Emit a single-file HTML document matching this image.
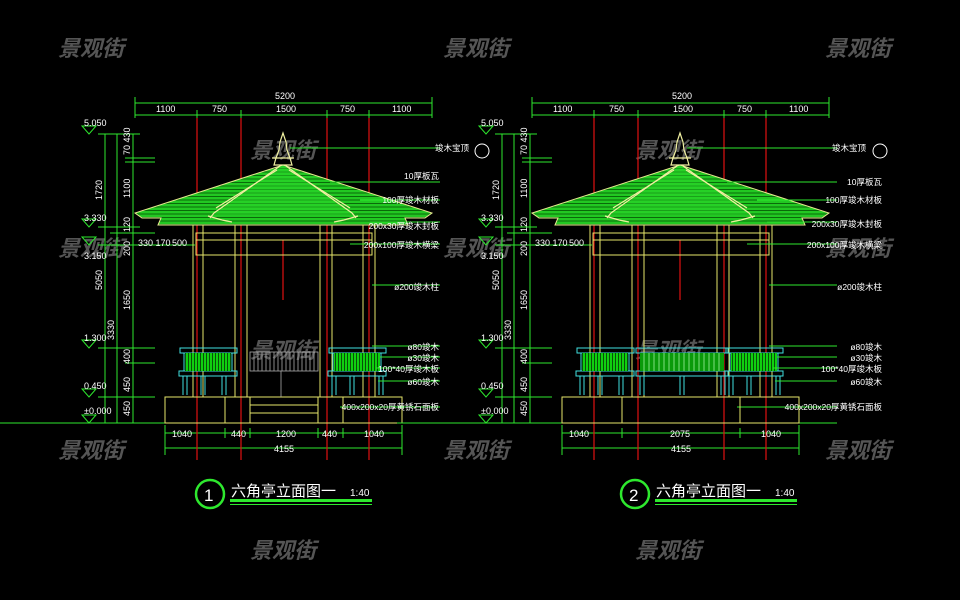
<!DOCTYPE html>
<html><head><meta charset="utf-8"><style>
html,body{margin:0;padding:0;background:#000;width:960px;height:600px;overflow:hidden}
svg{display:block}
text{font-family:"Liberation Sans","Noto Sans CJK SC",sans-serif}
.d{fill:#fff;font-size:9px}
.l{fill:#fff;font-size:8.5px}
.wm{fill:#555;font-size:22px;font-weight:bold;font-style:italic;font-family:"Noto Sans CJK SC","WenQuanYi Zen Hei",sans-serif}
</style></head><body>
<svg width="960" height="600" viewBox="0 0 960 600" xmlns="http://www.w3.org/2000/svg">
<defs>
<pattern id="st" width="4" height="3.5" patternUnits="userSpaceOnUse"><rect width="4" height="3.5" fill="#22c822"/><line x1="0" y1="0.5" x2="4" y2="0.5" stroke="#0a6a0a" stroke-width="1"/></pattern>
<pattern id="vb" width="3" height="4" patternUnits="userSpaceOnUse"><rect width="3" height="4" fill="#10d010"/><line x1="2.5" y1="0" x2="2.5" y2="4" stroke="#085008" stroke-width="1"/></pattern>
<g id="pav">
 <!-- dims top -->
 <g stroke="#2ee82e" stroke-width="1" fill="none">
  <line x1="135" y1="103" x2="432" y2="103"/>
  <line x1="135" y1="115" x2="432" y2="115"/>
  <line x1="135" y1="97" x2="135" y2="118"/><line x1="432" y1="97" x2="432" y2="118"/>
  <line x1="197" y1="110" x2="197" y2="120"/><line x1="241" y1="110" x2="241" y2="120"/>
  <line x1="327" y1="110" x2="327" y2="120"/><line x1="369" y1="110" x2="369" y2="120"/>
  <!-- left vertical dims -->
  <line x1="105" y1="134" x2="105" y2="423"/><line x1="117" y1="134" x2="117" y2="423"/><line x1="133" y1="134" x2="133" y2="423"/>
  <line x1="98" y1="134" x2="140" y2="134"/><line x1="125" y1="158" x2="155" y2="158"/><line x1="125" y1="162" x2="155" y2="162"/>
  <line x1="98" y1="227" x2="140" y2="227"/><line x1="110" y1="233" x2="155" y2="233"/><line x1="98" y1="245" x2="195" y2="245"/>
  <line x1="98" y1="348" x2="155" y2="348"/><line x1="125" y1="363" x2="155" y2="363"/><line x1="98" y1="397" x2="155" y2="397"/>
  <line x1="0" y1="423" x2="440" y2="423"/>
  <!-- bottom dims -->
  <line x1="165" y1="433" x2="402" y2="433"/><line x1="165" y1="448" x2="402" y2="448"/>
  <line x1="165" y1="425" x2="165" y2="455"/><line x1="402" y1="425" x2="402" y2="455"/>
  <!-- level markers -->
  <path d="M82 126H96L89 134Z M82 219H96L89 227Z M82 237H96L89 245Z M82 340H96L89 348Z M82 389H96L89 397Z M82 415H96L89 423Z"/>
 </g>
 <!-- red center lines -->
 <g stroke="#e01010" stroke-width="1.2">
  <line x1="197" y1="118" x2="197" y2="460"/><line x1="241" y1="118" x2="241" y2="460"/>
  <line x1="327" y1="118" x2="327" y2="460"/><line x1="369" y1="118" x2="369" y2="460"/>
  <line x1="283" y1="240" x2="283" y2="300"/>
 </g>
 <!-- roof -->
 <path d="M283 165 L432 213 L425 218 L405 218 L408 225 L158 225 L161 218 L142 218 L135 213 Z" fill="url(#st)" stroke="#e8e890" stroke-width="1"/>
 <path d="M283 165 L355 215 L213 215 Z" fill="#2ad82a" opacity="0.5"/>
 <g stroke="#f0f0a0" stroke-width="1.2" fill="none">
  <path d="M280 166 L214 213 L210 218 M286 166 L352 213 L356 218"/>
  <path d="M277 170 L216 208 M289 170 L350 208"/>
  <path d="M208 216 L222 220 L232 222 M358 216 L344 220 L334 222"/>
  <path d="M283 133 L280 142 L279 150 L276 158 L274 165 L292 165 L290 158 L287 150 L286 142 Z"/>
  <line x1="272" y1="158" x2="294" y2="158"/>
 </g>
 <!-- columns -->
 <g stroke="#e6e66a" stroke-width="1" fill="none">
  <line x1="193" y1="225" x2="193" y2="397"/><line x1="203" y1="225" x2="203" y2="397"/>
  <line x1="235" y1="225" x2="235" y2="397"/><line x1="247" y1="225" x2="247" y2="397"/>
  <line x1="320" y1="225" x2="320" y2="397"/><line x1="332" y1="225" x2="332" y2="397"/>
  <line x1="363" y1="225" x2="363" y2="397"/><line x1="375" y1="225" x2="375" y2="397"/>
  <rect x="196" y="233" width="176" height="7"/>
  <rect x="196" y="240" width="176" height="15"/>
  <rect x="165" y="397" width="237" height="26"/>
 </g>
 <!-- railings side -->
 <g stroke="#40e0e0" stroke-width="1" fill="none">
  <rect x="180" y="348" width="57" height="5"/><rect x="179" y="371" width="58" height="5"/>
  <rect x="329" y="348" width="57" height="5"/><rect x="328" y="371" width="58" height="5"/>
  <path d="M183 376V395M187 376V395M201 376V395M205 376V395M222 376V395M226 376V395M332 376V395M336 376V395M350 376V395M354 376V395M379 376V395M383 376V395"/>
  <path d="M184 353V371M232 353V371M333 353V371M381 353V371"/>
 </g>
 <rect x="185" y="353" width="46" height="18" fill="url(#vb)"/>
 <rect x="334" y="353" width="46" height="18" fill="url(#vb)"/>
 <!-- leaders -->
 <g stroke="#2ee82e" stroke-width="1">
  <line x1="290" y1="148" x2="440" y2="148"/><line x1="330" y1="182" x2="440" y2="182"/>
  <line x1="360" y1="200" x2="440" y2="200"/><line x1="370" y1="222" x2="440" y2="222"/>
  <line x1="350" y1="244" x2="440" y2="244"/><line x1="372" y1="285" x2="440" y2="285"/>
  <line x1="372" y1="346" x2="440" y2="346"/><line x1="380" y1="357" x2="440" y2="357"/>
  <line x1="376" y1="368" x2="440" y2="368"/><line x1="378" y1="381" x2="440" y2="381"/>
  <line x1="340" y1="407" x2="440" y2="407"/>
 </g>
</g>
</defs>

<g class="wms">
<text class="wm" x="58" y="56">景观街</text><text class="wm" x="443" y="56">景观街</text><text class="wm" x="825" y="56">景观街</text>
<text class="wm" x="250" y="158">景观街</text><text class="wm" x="635" y="158">景观街</text>
<text class="wm" x="58" y="256">景观街</text><text class="wm" x="443" y="256">景观街</text><text class="wm" x="825" y="256">景观街</text>
<text class="wm" x="250" y="358">景观街</text><text class="wm" x="635" y="358">景观街</text>
<text class="wm" x="58" y="458">景观街</text><text class="wm" x="443" y="458">景观街</text><text class="wm" x="825" y="458">景观街</text>
<text class="wm" x="250" y="558">景观街</text><text class="wm" x="635" y="558">景观街</text>
</g>

<use href="#pav"/>
<use href="#pav" transform="translate(397,0)"/>

<!-- left-specific: steps & middle rail -->
<g stroke="#e6e66a" fill="none">
 <path d="M225 397V423M250 397V423M318 397V423M343 397V423M250 405H318M250 413H318"/>
</g>
<g stroke="#aaa" stroke-width="0.8"><rect x="250" y="352" width="68" height="19" fill="none"/>
<path d="M254 352V371M258 352V371M262 352V371M266 352V371M270 352V371M274 352V371M278 352V371M282 352V371M286 352V371M290 352V371M294 352V371M298 352V371M302 352V371M306 352V371M310 352V371M314 352V371M281 371V397"/></g>
<g stroke="#2ee82e"><path d="M225 428V438M250 428V438M318 428V438M343 428V438"/></g>

<!-- right-specific middle rail -->
<g stroke="#40e0e0" fill="none"><rect x="636" y="348" width="92" height="5"/><rect x="636" y="371" width="92" height="5"/><path d="M640 376V395M644 376V395M680 376V395M684 376V395M721 376V395M725 376V395"/></g>
<rect x="640" y="353" width="84" height="18" fill="#0a9a0a"/>
<g stroke="#9ef09e" stroke-width="0.8"><path d="M644 353V371M649 353V371M654 353V371M659 353V371M664 353V371M669 353V371M674 353V371M679 353V371M684 353V371M689 353V371M694 353V371M699 353V371M704 353V371M709 353V371M714 353V371M719 353V371"/></g>
<g stroke="#e6e66a"><path d="M622 397V423M740 397V423"/></g>
<g stroke="#2ee82e"><path d="M622 428V438M740 428V438"/></g>

<!-- texts both -->
<g class="d">
 <text x="275" y="99">5200</text><text x="672" y="99">5200</text>
 <text x="156" y="112">1100</text><text x="212" y="112">750</text><text x="276" y="112">1500</text><text x="340" y="112">750</text><text x="392" y="112">1100</text>
 <text x="553" y="112">1100</text><text x="609" y="112">750</text><text x="673" y="112">1500</text><text x="737" y="112">750</text><text x="789" y="112">1100</text>
 <text x="84" y="126">5.050</text><text x="84" y="221">3.330</text><text x="84" y="259">3.150</text><text x="84" y="341">1.300</text><text x="84" y="389">0.450</text><text x="84" y="414">±0.000</text>
 <text x="481" y="126">5.050</text><text x="481" y="221">3.330</text><text x="481" y="259">3.150</text><text x="481" y="341">1.300</text><text x="481" y="389">0.450</text><text x="481" y="414">±0.000</text>
 <text x="138" y="246">330 170</text><text x="172" y="246">500</text>
 <text x="535" y="246">330 170</text><text x="569" y="246">500</text>
 <text x="172" y="437">1040</text><text x="231" y="437">440</text><text x="276" y="437">1200</text><text x="322" y="437">440</text><text x="364" y="437">1040</text>
 <text x="274" y="452">4155</text>
 <text x="569" y="437">1040</text><text x="670" y="437">2075</text><text x="761" y="437">1040</text>
 <text x="671" y="452">4155</text>
</g>
<g class="d" font-size="8">
 <text transform="translate(102,200) rotate(-90)">1720</text><text transform="translate(102,290) rotate(-90)">5050</text><text transform="translate(114,340) rotate(-90)">3330</text>
 <text transform="translate(130,155) rotate(-90)">70 430</text><text transform="translate(130,198) rotate(-90)">1100</text><text transform="translate(130,232) rotate(-90)">120</text><text transform="translate(130,256) rotate(-90)">200</text><text transform="translate(130,310) rotate(-90)">1650</text><text transform="translate(130,364) rotate(-90)">400</text><text transform="translate(130,392) rotate(-90)">450</text><text transform="translate(130,416) rotate(-90)">450</text>
 <text transform="translate(499,200) rotate(-90)">1720</text><text transform="translate(499,290) rotate(-90)">5050</text><text transform="translate(511,340) rotate(-90)">3330</text>
 <text transform="translate(527,155) rotate(-90)">70 430</text><text transform="translate(527,198) rotate(-90)">1100</text><text transform="translate(527,232) rotate(-90)">120</text><text transform="translate(527,256) rotate(-90)">200</text><text transform="translate(527,310) rotate(-90)">1650</text><text transform="translate(527,364) rotate(-90)">400</text><text transform="translate(527,392) rotate(-90)">450</text><text transform="translate(527,416) rotate(-90)">450</text>
</g>
<g class="l" text-anchor="end">
 <text x="439" y="179">10厚板瓦</text><text x="439" y="203">100厚竣木材板</text><text x="439" y="229">200x30厚竣木封板</text><text x="439" y="248">200x100厚竣木横梁</text><text x="439" y="290">ø200竣木柱</text><text x="439" y="350">ø80竣木</text><text x="439" y="361">ø30竣木</text><text x="439" y="372">100*40厚竣木板</text><text x="439" y="385">ø60竣木</text><text x="439" y="410">400x200x20厚黄锈石面板</text>
 <text x="882" y="185">10厚板瓦</text><text x="882" y="203">100厚竣木材板</text><text x="882" y="227">200x30厚竣木封板</text><text x="882" y="248">200x100厚竣木横梁</text><text x="882" y="290">ø200竣木柱</text><text x="882" y="350">ø80竣木</text><text x="882" y="361">ø30竣木</text><text x="882" y="372">100*40厚竣木板</text><text x="882" y="385">ø60竣木</text><text x="882" y="410">400x200x20厚黄锈石面板</text>
 <text x="469" y="151">竣木宝顶</text><text x="866" y="151">竣木宝顶</text>
</g>
<g stroke="#fff" fill="none"><circle cx="482" cy="151" r="7"/><circle cx="880" cy="151" r="7"/></g>

<!-- titles -->
<g fill="none" stroke="#2ee82e" stroke-width="2.5"><circle cx="210" cy="494" r="14"/><circle cx="635" cy="494" r="14"/></g>
<rect x="230" y="499" width="142" height="3" fill="#2ee82e"/><rect x="230" y="504" width="142" height="1" fill="#2ee82e"/>
<rect x="655" y="499" width="142" height="3" fill="#2ee82e"/><rect x="655" y="504" width="142" height="1" fill="#2ee82e"/>
<g fill="#fff">
 <text x="204" y="501" font-size="17">1</text><text x="629" y="501" font-size="17">2</text>
 <text x="231" y="496" font-size="15">六角亭立面图一</text><text x="350" y="496" font-size="10">1:40</text>
 <text x="656" y="496" font-size="15">六角亭立面图一</text><text x="775" y="496" font-size="10">1:40</text>
</g>
</svg>
</body></html>
